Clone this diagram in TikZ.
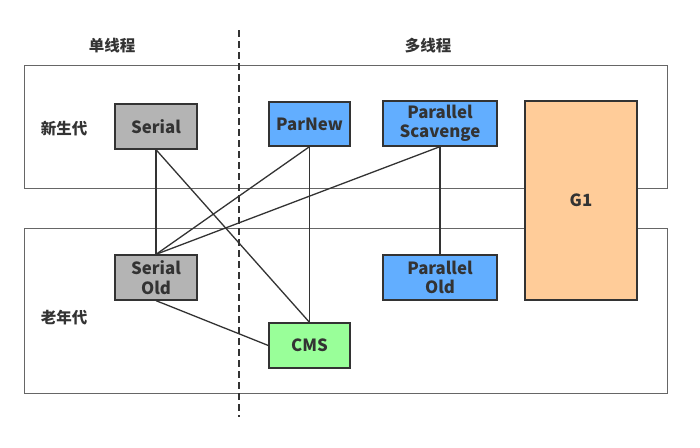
\documentclass[tikz,border=0pt]{standalone}
\usepackage{fontspec}
\setmainfont{Noto Sans CJK SC}
\usetikzlibrary{positioning}
\definecolor{gcgray}{HTML}{B4B4B4}
\definecolor{gcblue}{HTML}{62AEFF}
\definecolor{gcgreen}{HTML}{99FF99}
\definecolor{gcorange}{HTML}{FFCC99}
\definecolor{ink}{HTML}{333333}

\begin{document}
\begin{tikzpicture}[x=1pt,y=-1pt]
\tikzstyle{area}=[draw=black!60,line width=0.7pt]
\tikzstyle{gc}=[rectangle,align=center,draw=ink,line width=1.3pt,inner sep=0pt,text=ink,
                font=\bfseries\fontsize{16.8}{19.5}\selectfont]
\tikzstyle{lbl}=[text=ink,font=\bfseries\fontsize{15.5}{18}\selectfont]
\tikzstyle{link}=[draw=ink,line width=1.3pt]
\useasboundingbox (0,0) rectangle (700,447);
% generations
\draw[area] (24,65) rectangle (667,188);
\draw[area] (24,228) rectangle (667,393);
\draw[ink,line width=1.2pt,dash pattern=on 7pt off 4pt] (239,30) -- (239,417);
\node[lbl] at(112, 46) (single) {单线程};
\node[lbl] at(428, 46) (multi) {多线程};
\node[lbl] at(64, 129) (young) {新生代};
\node[lbl] at(64, 318) (old) {老年代};
% collectors
\node[gc,fill=gcgray,minimum width=82pt,minimum height=45pt] at(156, 126.5) (serial) {Serial};
\node[gc,fill=gcblue,minimum width=81pt,minimum height=44pt] at(309.5, 124) (parnew) {ParNew};
\node[gc,fill=gcblue,minimum width=114pt,minimum height=45pt] at(440, 123.5) (scavenge) {Parallel\\Scavenge};
\node[gc,fill=gcorange,minimum width=112pt,minimum height=199pt] at(581, 200.5) (g1) {G1};
\node[gc,fill=gcgray,minimum width=82pt,minimum height=45pt] at(156, 277.5) (serialold) {Serial\\Old};
\node[gc,fill=gcblue,minimum width=114pt,minimum height=45pt] at(440, 277.5) (parold) {Parallel\\Old};
\node[gc,fill=gcgreen,minimum width=81pt,minimum height=45pt] at(309.5, 345.5) (cms) {CMS};
% links
\draw[link] (serial.south) -- (serialold.north);
\draw[link] (serial.south) -- (cms.north);
\draw[link] (parnew.south) -- (serialold.north);
\draw[link] (parnew.south) -- (cms.north);
\draw[link] (scavenge.south) -- (serialold.north);
\draw[link] (scavenge.south) -- (parold.north);
\draw[link] (serialold.south) -- (cms.west);
\end{tikzpicture}
\end{document}
